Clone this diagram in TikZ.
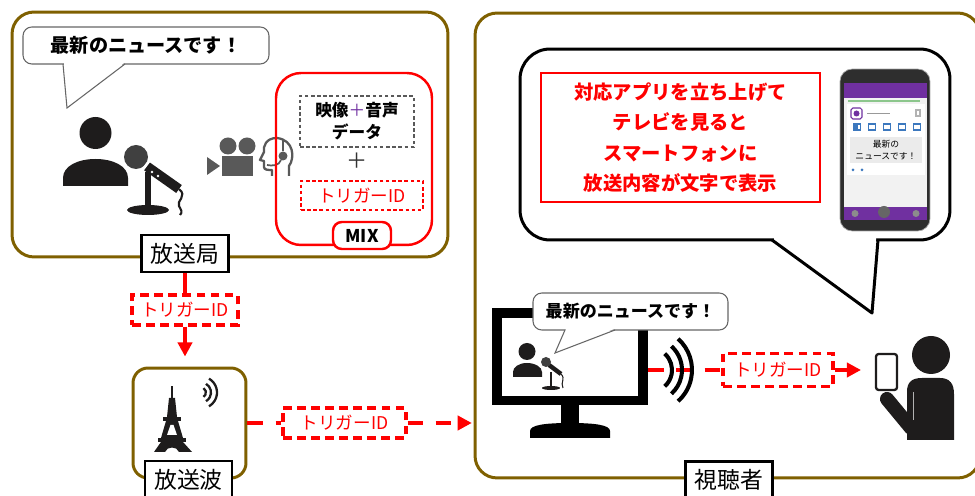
\documentclass[tikz,border=0pt]{standalone}
\usepackage{fontspec}
\setmainfont{Noto Sans CJK JP}
\usetikzlibrary{arrows.meta, positioning}
\definecolor{framebrown}{RGB}{127,96,0}
\definecolor{idred}{RGB}{255,0,0}
\definecolor{icongray}{RGB}{89,89,89}
\definecolor{apppurple}{RGB}{112,48,160}
\definecolor{appblue}{RGB}{60,120,190}
\definecolor{figblack}{RGB}{30,28,28}

\begin{document}
\begin{tikzpicture}[x=0.02cm, y=-0.02cm,
every node/.style={align=center}, >={Triangle[length=8pt, width=8pt]},
area/.style={draw=framebrown, line width=1.7pt, rounded corners=0.44cm},
tag/.style={draw=black, fill=white, line width=1.2pt, minimum width=1.74cm, minimum height=0.74cm, font=\fontsize{13}{15}\selectfont},
idbox/.style={draw=idred, fill=white, line width=1.8pt, dash pattern=on 5pt off 3pt, text=idred, font=\fontsize{10}{12}\selectfont},
idline/.style={idred, line width=2.3pt, dash pattern=on 9pt off 7pt},
idarrow/.style={idred, line width=2.3pt, ->},
talk/.style={draw=black!60, fill=white, line width=0.6pt, rounded corners=5pt}]

\useasboundingbox (0,0) rectangle (975,496);

% Broadcast station
\node[area, minimum width=8.72cm, minimum height=4.9cm] (station) at (230,134.5) {};

% announcer's speech
\node[talk, minimum width=4.92cm, minimum height=0.74cm] (saynews) at (146,45.5) {};
\fill[white] (64,63) -- (67,108) -- (124,63) -- cycle;
\draw[black!60, line width=0.6pt] (63,64) -- (67,108) -- (125,64);
\node[font=\bfseries\fontsize{10.9}{13}\selectfont] at (saynews) {最新のニュースです！};

% announcer
\fill[figblack] (95.5,133) circle[radius=16];
\fill[figblack] (63,186) -- (63,178) .. controls (63,166) and (78,159) .. (95.5,159)
  .. controls (113,159) and (128,166) .. (128,178) -- (128,186) -- cycle;

% microphone on its stand
\fill[figblack] (148,210) ellipse[x radius=21, y radius=5];
\draw[figblack, line width=3pt] (148,208) -- (148,172);
\draw[figblack, line width=5.5pt] (145,165) -- (179,189);
\fill[white] (152,172) circle[radius=1.4] (158,176) circle[radius=1.4];
\draw[figblack, line width=1.2pt] (179,189) .. controls (188,196) and (176,201) .. (179,206)
  .. controls (181,210) and (183,212) .. (180,215);
\fill[black!75] (136,157) circle[radius=12];
\draw[white, line width=1.5pt] (141.6,171.2) -- (151.2,158.4);

% camera
\fill[icongray] (228,146) circle[radius=8.5] (247,146) circle[radius=8.5];
\fill[icongray] (222,156) rectangle (253,176);
\fill[icongray] (207,157) -- (220,166) -- (207,175) -- cycle;

% operator with headset
\draw[icongray, line width=1.3pt, line join=round] (289,176) -- (289,166)
  .. controls (295,158) and (294,140) .. (277,138) .. controls (266,138) and (263,146) .. (264,152)
  -- (260,160) -- (264,161) -- (264,167) .. controls (264,170) and (268,170) .. (272,170) -- (272,176);
\draw[icongray, line width=1pt] (283,139) -- (283,151);
\fill[icongray] (283,156) circle[radius=4.5];
\draw[icongray, line width=1pt] (281,160) .. controls (279,166) and (272,166) .. (267,165);

% mixing of picture, sound and trigger
\node[draw=idred, line width=1.4pt, rounded corners=0.5cm, minimum width=3.12cm, minimum height=3.44cm] (mix) at (354,159) {};
\node[draw=black!65, line width=0.7pt, dash pattern=on 2pt off 1.5pt, minimum width=2.28cm, minimum height=1.02cm,
  font=\bfseries\fontsize{9.5}{12.5}\selectfont] (avdata) at (357,121.5) {映像{\color{apppurple}\mdseries ＋}音声\\データ};
\node[font=\fontsize{12}{12}\selectfont, text=black!80] (plus) at (357,161) {＋};
\node[draw=idred, line width=0.7pt, dash pattern=on 2pt off 1.5pt, minimum width=2.44cm, minimum height=0.58cm,
  text=idred, font=\fontsize{10}{12}\selectfont] (mixid) at (362,195.5) {トリガーID};
\node[draw=idred, fill=white, line width=1.4pt, rounded corners=5pt, minimum width=1.16cm, minimum height=0.54cm,
  font=\bfseries\fontsize{10}{12}\selectfont] (mixtag) at (362,235.5) {MIX};

\node[tag] (stationtag) at (185,253.5) {放送局};

% Broadcast wave
\node[area, rounded corners=0.3cm, minimum width=2.26cm, minimum height=2.2cm] (tower) at (189.5,423) {};

% tower
\fill[figblack] (171.3,386) rectangle (172.7,398);
\fill[figblack] (169,398) -- (175,398) -- (177,417) -- (167,417) -- cycle;
\fill[figblack] (163,417) rectangle (181,421);
\fill[figblack] (166,421) -- (178,421) -- (183,438) -- (161,438) -- cycle;
\fill[white] (170.5,425) -- (173.5,425) -- (177,435) -- (167,435) -- cycle;
\fill[figblack] (158,438) rectangle (186,442);
\fill[figblack] (161,442) -- (183,442) -- (192,452) -- (179,452) .. controls (177,446) and (167,446) .. (165,452)
  -- (154,452) -- cycle;
\foreach \r in {5,10,16}
  \draw[figblack, line width=1.3pt] (201,392.5) ++(-60:\r) arc[start angle=-60, end angle=60, radius=\r];

\node[tag] (towertag) at (188.5,479.5) {放送波};

% Viewer
\node[area, minimum width=10.1cm, minimum height=9.3cm] (viewer) at (727.5,245.5) {};

% what the viewer sees
\node[draw=black, fill=white, line width=1.7pt, rounded corners=0.6cm, minimum width=8.6cm, minimum height=3.82cm] (bigtalk) at (735,144.5) {};
\fill[white] (774,236) -- (774,242) -- (872,311) -- (876,242) -- (876,236) -- cycle;
\draw[black, line width=1.7pt, line join=round] (772,240) -- (872,313) -- (878,240);

\node[draw=idred, line width=1.4pt, minimum width=5.58cm, minimum height=2.58cm, text=idred,
  font=\bfseries\fontsize{11}{17.3}\selectfont] (appnote) at (680.5,137.5)
  {対応アプリを立ち上げて\\テレビを見ると\\スマートフォンに\\放送内容が文字で表示};

% smartphone with the app
\node[fill=black!82, draw=black!35, line width=0.4pt, rounded corners=7pt, minimum width=1.8cm, minimum height=3.24cm] (handset) at (885,150) {};
\fill[black!5] (844,83) rectangle (927,220);
\fill[apppurple] (844,83) rectangle (927,98);
\draw[green!50!black!45, line width=1pt] (848,101) -- (920,101);
\fill[white] (847,104) rectangle (925,175);
\draw[apppurple, line width=0.6pt, rounded corners=1pt] (851,108) rectangle (862,119);
\fill[apppurple] (856.5,113.5) circle[radius=3];
\draw[black!40, line width=0.8pt] (867,113.5) -- (890,113.5);
\draw[black!30, line width=0.6pt] (916,110) rectangle (920,116);
\foreach \ix in {857,872,887,902,917}
  \draw[appblue, line width=0.6pt] (\ix-3.5,124) rectangle (\ix+3.5,130);
\fill[appblue] (853.5,124) rectangle (857.5,130);
\fill[black!8] (850,137) rectangle (922,163);
\node[font=\fontsize{5}{6.5}\selectfont] (screennews) at (886,150) {最新の\\ニュースです！};
\fill[appblue] (853,170) circle[radius=1.5] (862,170) circle[radius=1.5];
\fill[apppurple] (844,207) rectangle (927,220);
\fill[black!45] (855,213.5) circle[radius=3.5] (916,213.5) circle[radius=3.5];
\fill[black!60] (884,212) circle[radius=6];

% television
\node[fill=black, minimum width=3.12cm, minimum height=1.94cm] (tv) at (570,356.5) {};
\fill[white] (502,318) rectangle (638,396);
\fill[black] (561,404) rectangle (579,426);
\fill[black] (530,438) -- (530,431) .. controls (530,425) and (545,423) .. (570,423)
  .. controls (595,423) and (610,425) .. (610,431) -- (610,438) -- cycle;

% presenter on screen
\fill[figblack] (527,351.5) circle[radius=8.5];
\fill[figblack] (513,377) -- (513,372) .. controls (513,367) and (519,363) .. (527,363)
  .. controls (535,363) and (542,367) .. (542,372) -- (542,377) -- cycle;
\fill[figblack] (551,388) ellipse[x radius=9, y radius=2];
\draw[figblack, line width=1.2pt] (551,387) -- (551,372);
\draw[figblack, line width=2.5pt] (549,365) -- (561,374);
\draw[figblack, line width=0.6pt] (561,374) .. controls (566,379) and (560,382) .. (563,388);
\fill[black!75] (546,362) circle[radius=5];

\node[talk, minimum width=3.9cm, minimum height=0.74cm] (saytv) at (630.5,311.5) {};
\fill[white] (566,329) -- (555,353) -- (614,329) -- cycle;
\draw[black!60, line width=0.6pt] (565,330) -- (555,353) -- (615,330);
\node[font=\bfseries\fontsize{9.7}{12}\selectfont] at (saytv) {最新のニュースです！};

% viewer holding the smartphone
\coordinate (handheld) at (876,370);
\fill[figblack] (931,355) circle[radius=19];
\fill[figblack] (907,440) -- (907,392) .. controls (907,382) and (912,378) .. (922,378) -- (940,378)
  .. controls (950,378) and (954,384) .. (954,394) -- (954,440) -- cycle;
\draw[figblack, line width=8pt, line cap=round] (887,399) -- (911,428);
\draw[black!30, line width=0.4pt] (913,392) -- (913,420);
\draw[figblack, line width=1.3pt, fill=white, rounded corners=1.5pt] (876,354) rectangle (897,390);

% trigger ID path
\node[idbox, minimum width=2.12cm, minimum height=0.6cm] (idup) at (185,310) {トリガーID};
\node[idbox, minimum width=2.46cm, minimum height=0.6cm] (idmid) at (344.5,423) {トリガーID};
\node[idbox, minimum width=2.2cm, minimum height=0.66cm] (idtv) at (778,370) {トリガーID};

\draw[idred, line width=2.3pt] (stationtag) -- (idup);
\draw[idarrow, shorten >=0.2cm] (idup.south) -- (idup.south |- tower.north);
\draw[idline] (tower.east) -- (idmid.west);
\draw[idarrow, idline, shorten >=1pt] (idmid.east) -- (idmid.east -| viewer.west);
\draw[idline] (idtv.west -| tv.east) -- (idtv.west);
\draw[idarrow, idline, shorten >=0.3cm] (idtv.east) -- (handheld);

% waves from the television
\foreach \r in {22,32,42}
  \draw[black, line width=2.3pt] (650,370) ++(-48:\r) arc[start angle=-48, end angle=48, radius=\r];

\node[tag] (viewertag) at (729,480) {視聴者};

\end{tikzpicture}
\end{document}
